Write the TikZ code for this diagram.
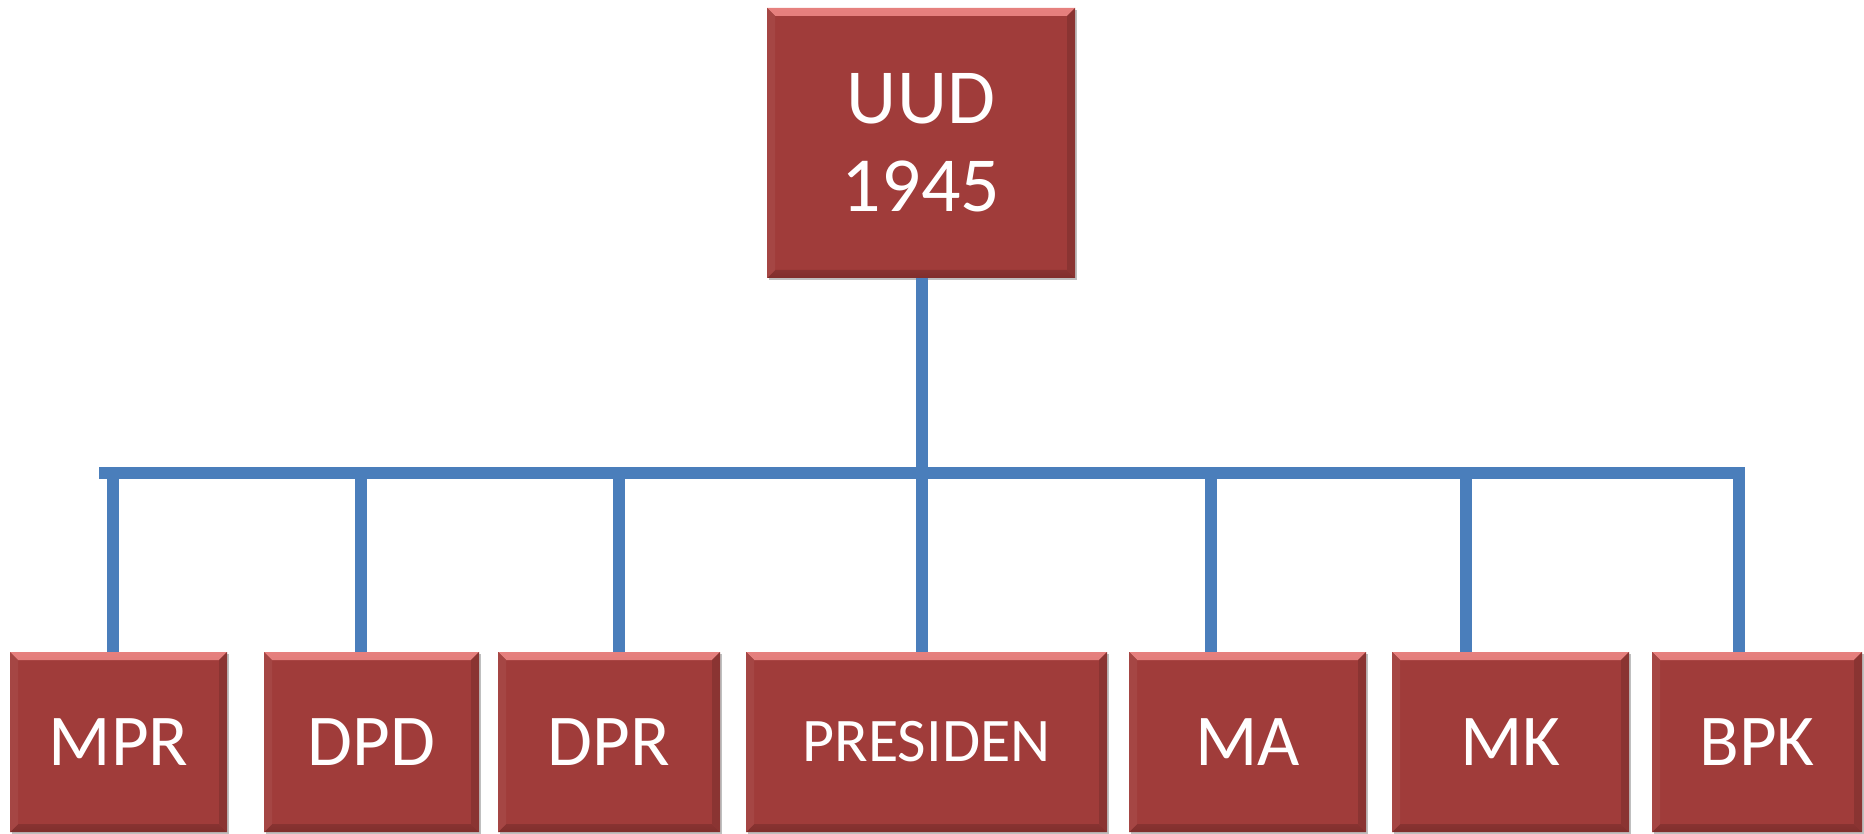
\documentclass[tikz,border=0pt]{standalone}
\usepackage{fontspec}
\setmainfont{Carlito}
\usetikzlibrary{shadows}
\definecolor{boxred}{RGB}{160,60,58}
\definecolor{boxlight}{RGB}{230,128,126}
\definecolor{boxdark}{RGB}{128,46,44}
\definecolor{linkblue}{RGB}{74,126,187}
\newcommand{\bevelw}{8pt}
\tikzset{
	box/.style={fill=boxred, text=white, inner sep=0pt, minimum height=180pt,
		font=\fontsize{73}{88}\selectfont,
		drop shadow={shadow xshift=1.5pt, shadow yshift=-2pt, opacity=0.25, fill=black},
		path picture={
			\shade[top color=boxlight, bottom color=boxred!80!boxlight]
				(path picture bounding box.north west) -- (path picture bounding box.north east)
				-- ([xshift=-\bevelw,yshift=-\bevelw]path picture bounding box.north east)
				-- ([xshift=\bevelw,yshift=-\bevelw]path picture bounding box.north west) -- cycle;
			\shade[top color=boxred!85!black, bottom color=boxdark]
				(path picture bounding box.south west) -- (path picture bounding box.south east)
				-- ([xshift=-\bevelw,yshift=\bevelw]path picture bounding box.south east)
				-- ([xshift=\bevelw,yshift=\bevelw]path picture bounding box.south west) -- cycle;
			\fill[boxred!86!black]
				(path picture bounding box.north east) -- (path picture bounding box.south east)
				-- ([xshift=-\bevelw,yshift=\bevelw]path picture bounding box.south east)
				-- ([xshift=-\bevelw,yshift=-\bevelw]path picture bounding box.north east) -- cycle;
			\fill[boxred!95!white]
				(path picture bounding box.north west) -- (path picture bounding box.south west)
				-- ([xshift=\bevelw,yshift=\bevelw]path picture bounding box.south west)
				-- ([xshift=\bevelw,yshift=-\bevelw]path picture bounding box.north west) -- cycle;
		}},
	link/.style={draw=linkblue, line width=12pt}
}
\begin{document}
\begin{tikzpicture}[x=1pt,y=-1pt]
	\useasboundingbox (0,0) rectangle (1864,834);
	% top box
	\node[box, minimum width=308pt, minimum height=270pt, align=center,
		font=\fontsize{78}{88}\selectfont] (uud) at (921,143) {UUD\\1945};
	% bottom row
	\node[box, minimum width=217pt] (mpr) at (118.5,742) {MPR};
	\node[box, minimum width=215pt] (dpd) at (371.5,742) {DPD};
	\node[box, minimum width=222pt] (dpr) at (609,742) {DPR};
	\node[box, minimum width=361pt, font=\fontsize{62}{74}\selectfont] (presiden) at (926.5,742) {PRESIDEN};
	\node[box, minimum width=237pt] (ma) at (1247.5,742) {MA};
	\node[box, minimum width=237pt] (mk) at (1510.5,742) {MK};
	\node[box, minimum width=210pt] (bpk) at (1757,742) {BPK};
	% connectors
	\coordinate (busw) at (99,473);
	\coordinate (bus) at (922,473);
	\draw[link] ([xshift=1pt]uud.south) -- (bus);
	\draw[link] (busw) -| ([xshift=-18.5pt]bpk.north);
	\draw[link] ([xshift=-5.5pt]mpr.north) -- ([xshift=-5.5pt]mpr.north |- bus);
	\draw[link] ([xshift=-11pt]dpd.north) -- ([xshift=-11pt]dpd.north |- bus);
	\draw[link] ([xshift=9.5pt]dpr.north) -- ([xshift=9.5pt]dpr.north |- bus);
	\draw[link] ([xshift=-4.5pt]presiden.north) -- ([xshift=-4.5pt]presiden.north |- bus);
	\draw[link] ([xshift=-36.5pt]ma.north) -- ([xshift=-36.5pt]ma.north |- bus);
	\draw[link] ([xshift=-44.5pt]mk.north) -- ([xshift=-44.5pt]mk.north |- bus);
\end{tikzpicture}
\end{document}
